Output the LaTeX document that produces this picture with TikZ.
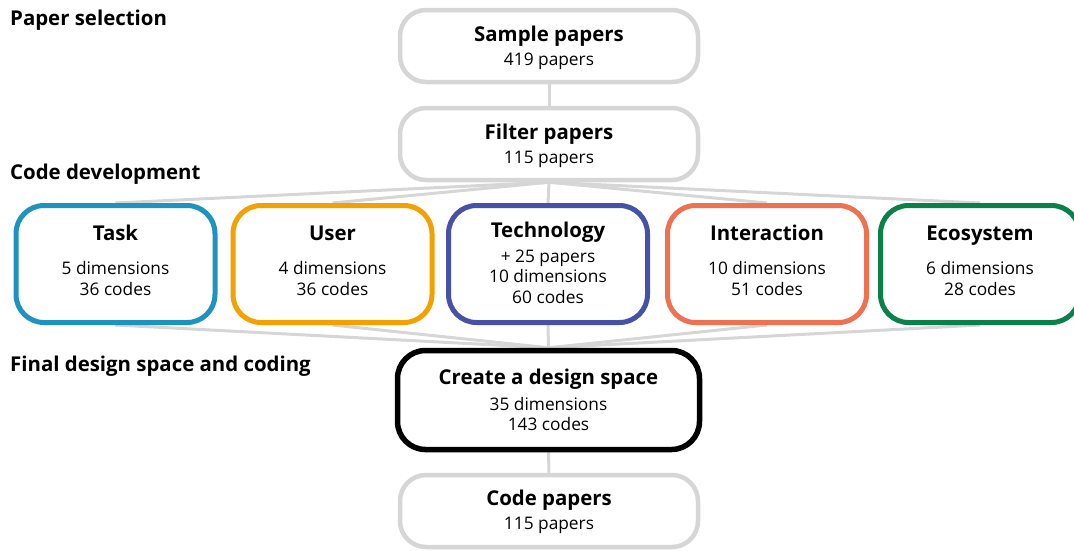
\documentclass[tikz,border=0pt]{standalone}
\usepackage{fontspec}
\setmainfont{Open Sans}
\pgfdeclarelayer{background}
\pgfsetlayers{background,main}
\definecolor{cgrey}{HTML}{D6D6D6}
\definecolor{ctask}{HTML}{1E93C0}
\definecolor{cuser}{HTML}{F2A100}
\definecolor{ctech}{HTML}{4651A8}
\definecolor{cinter}{HTML}{EE7150}
\definecolor{ceco}{HTML}{0B8048}
\tikzset{
  conn/.style={draw=cgrey, line width=3pt},
  greybox/.style={draw=cgrey, line width=4.5pt, fill=white, rounded corners=26pt, minimum width=298pt, minimum height=72pt, inner sep=0pt},
  catbox/.style={line width=5pt, fill=white, rounded corners=28pt, minimum width=199pt, minimum height=117pt, inner sep=0pt},
  blackbox/.style={draw=black, line width=5.5pt, fill=white, rounded corners=28pt, minimum width=302pt, minimum height=99pt, inner sep=0pt},
  ttl/.style={font=\bfseries\fontsize{20.4}{23}\selectfont, inner sep=0pt, anchor=center, text height=14.6pt, text depth=0pt},
  sub/.style={font=\fontsize{17.3}{20}\selectfont, inner sep=0pt, anchor=center, text height=12.4pt, text depth=0pt},
  sec/.style={font=\bfseries\fontsize{20.4}{23}\selectfont, inner sep=0pt, anchor=west, text height=14.6pt, text depth=0pt},
}
\begin{document}
\begin{tikzpicture}[x=1pt,y=-1pt]
\useasboundingbox (0,0) rectangle (1074,550);
% section titles
\node[sec] (s1) at (10,18) {Paper selection};
\node[sec] (s2) at (10,172) {Code development};
\node[sec] (s3) at (10,364) {Final design space and coding};
% boxes
\node[greybox] (sample) at (549,46) {};
\node[greybox] (filter) at (549,144) {};
\node[catbox, draw=ctask] (task) at (115.5,264) {};
\node[catbox, draw=cuser] (user) at (332.5,264) {};
\node[catbox, draw=ctech] (tech) at (548,264) {};
\node[catbox, draw=cinter] (inter) at (767,264) {};
\node[catbox, draw=ceco] (eco) at (980,264) {};
\node[blackbox] (create) at (548.5,400) {};
\node[greybox] (code) at (549,511) {};
% texts
\node[ttl] (t1) at (549,34) {Sample papers};
\node[sub] (u1) at (549,59) {419 papers};
\node[ttl] (t2) at (549,132) {Filter papers};
\node[sub] (u2) at (549,157) {115 papers};
\node[ttl] (t3) at (115.5,233) {Task};
\node[sub] (u3a) at (115.5,268) {5 dimensions};
\node[sub] (u3b) at (115.5,289) {36 codes};
\node[ttl] (t4) at (332.5,233) {User};
\node[sub] (u4a) at (332.5,268) {4 dimensions};
\node[sub] (u4b) at (332.5,289) {36 codes};
\node[ttl] (t5) at (548,230) {Technology};
\node[sub] (u5p) at (548,256) {+ 25 papers};
\node[sub] (u5a) at (548,276) {10 dimensions};
\node[sub] (u5b) at (548,297) {60 codes};
\node[ttl] (t6) at (767,233) {Interaction};
\node[sub] (u6a) at (767,268) {10 dimensions};
\node[sub] (u6b) at (767,289) {51 codes};
\node[ttl] (t7) at (980,233) {Ecosystem};
\node[sub] (u7a) at (980,268) {6 dimensions};
\node[sub] (u7b) at (980,289) {28 codes};
\node[ttl] (t8) at (548.5,377) {Create a design space};
\node[sub] (u8a) at (548.5,404) {35 dimensions};
\node[sub] (u8b) at (548.5,424) {143 codes};
\node[ttl] (t9) at (549,498) {Code papers};
\node[sub] (u9) at (549,523) {115 papers};
% connectors
\begin{pgfonlayer}{background}
\draw[conn] (sample.south) -- (filter.north);
\foreach \b in {task,user,tech,inter,eco}{
  \draw[conn] (filter.south) -- (\b.north);
  \draw[conn] (\b.south) -- (create.north);
}
\draw[conn] (create.south) -- (code.north);
\end{pgfonlayer}
\end{tikzpicture}
\end{document}
